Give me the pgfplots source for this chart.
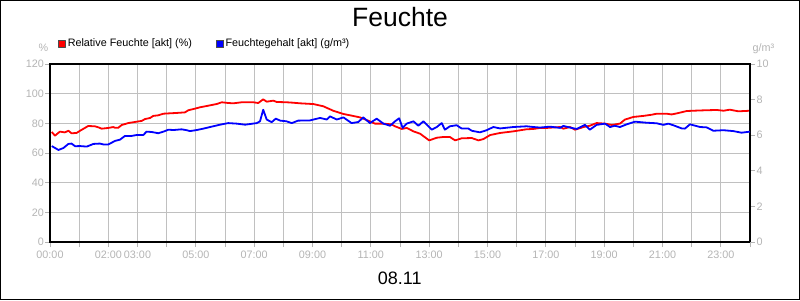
\documentclass[border=0pt]{standalone}
\usepackage{fontspec}
\setmainfont{Liberation Sans}
\usepackage{pgfplots}
\pgfplotsset{compat=1.18}
\definecolor{lbl}{RGB}{180,180,180}
\definecolor{grd}{RGB}{192,192,192}
\definecolor{rd}{RGB}{255,0,0}
\definecolor{bl}{RGB}{0,0,255}
\begin{document}
\begin{tikzpicture}[x=1pt,y=1pt]
\useasboundingbox (0,0) rectangle (800,300);
\draw[line width=1pt] (0.5,0.5) rectangle (799.5,299.5);
\node[anchor=base, inner sep=0pt, font=\fontsize{26.5}{30}\selectfont] at (400,273) {Feuchte};
\node[anchor=base, inner sep=0pt, font=\fontsize{18}{20}\selectfont] at (399.7,16) {08.11};
\node[anchor=base east, inner sep=0pt, text=lbl, font=\fontsize{10.8}{12}\selectfont] at (48.5,248) {\%};
\node[anchor=base west, inner sep=0pt, text=lbl, font=\fontsize{10.8}{12}\selectfont] at (752.5,248) {g/m³};
\pgfplotsset{common/.style={scale only axis, width=700pt, height=178pt, at={(50pt,58pt)}, anchor=south west,
  xmin=0, xmax=24, tick align=outside, major tick length=5pt,
  tick style={lbl, line width=0.8pt},
  ticklabel style={text=lbl, font=\fontsize{10.8}{12}\selectfont},
  /pgf/number format/assume math mode=true}}
\begin{axis}[common, ymin=0, ymax=120, ytick={0,20,...,120},
  xtick={0,...,24},
  xticklabels={00:00,,02:00,03:00,,05:00,,07:00,,09:00,,11:00,,13:00,,15:00,,17:00,,19:00,,21:00,,23:00,},
  xtick pos=lower, ytick pos=left,
  grid=major, major grid style={grd, line width=0.8pt},
  axis line style={black, line width=1.2pt},
  yticklabel style={inner sep=1pt},
  legend columns=2,
  legend style={draw=none, fill=none, inner sep=0pt, at={(0.0114,1.1135)}, anchor=west,
    font=\fontsize{10.8}{12}\selectfont, text=black,
    /tikz/every even column/.append style={column sep=22pt}}]
\addplot[rd, line width=1.8pt, line join=round,
  legend image code/.code={\filldraw[fill=rd, draw=black!70, line width=0.6pt] (0pt,-3.5pt) rectangle (7pt,3.5pt);}]
coordinates {
(0.06,74.2)(0.17,71.7)(0.34,74.4)(0.51,73.9)(0.63,75)(0.74,73.3)(0.91,73.5)(1.03,75)(1.31,78.2)(1.54,78)
(1.66,77.3)(1.77,76.4)(2.0,76.9)(2.17,77.5)(2.23,77)(2.34,77)(2.46,78.9)(2.69,80.2)(3.03,81.3)(3.14,81.6)
(3.26,82.9)(3.43,83.6)(3.54,85)(3.71,85.4)(3.89,86.5)(4.06,86.7)(4.34,87)(4.63,87.4)(4.74,88.8)(4.97,89.9)
(5.14,90.8)(5.43,91.9)(5.71,93)(5.89,94.2)(6.11,93.7)(6.29,93.5)(6.57,94.2)(6.97,94.2)(7.14,93.7)(7.31,96.2)
(7.43,94.6)(7.66,95.3)(7.77,94.4)(8.11,94.2)(8.34,93.9)(8.57,93.5)(9.03,93)(9.37,91.5)(9.71,88.5)(10.06,86.3)
(10.29,85.4)(10.63,84)(10.91,81.8)(11.14,79.8)(11.43,79.8)(11.71,79.3)(11.83,78)(12.06,76.2)(12.23,76.9)(12.46,74.6)
(12.69,73)(13.0,68.5)(13.26,70.3)(13.49,70.8)(13.71,70.8)(13.89,68.5)(14.11,69.9)(14.46,70.1)(14.69,68.5)(14.86,69.4)
(15.09,72.1)(15.43,73.5)(15.89,74.6)(16.34,76)(16.57,76.2)(16.8,76.9)(17.03,76.9)(17.49,77.5)(17.6,76.4)(17.83,77.5)
(18.0,75.7)(18.29,77.5)(18.51,78.4)(18.74,80.2)(19.03,79.8)(19.26,78.9)(19.54,79.8)(19.71,82.5)(20.0,84.3)(20.34,85)
(20.63,85.8)(20.8,86.5)(21.14,86.5)(21.31,86)(21.49,86.7)(21.83,88.3)(22.06,88.5)(22.46,88.8)(22.86,89)(23.09,88.5)
(23.31,89.2)(23.6,88.1)(24.0,88.5)
};
\addlegendentry{Relative Feuchte [akt] (\%)}
\addlegendimage{legend image code/.code={\filldraw[fill=bl, draw=black!70, line width=0.6pt] (0pt,-3.5pt) rectangle (7pt,3.5pt);}}
\addlegendentry{Feuchtegehalt [akt] (g/m³)}
\end{axis}
\begin{axis}[common, ymin=0, ymax=10, ytick={0,2,...,10},
  axis x line=none, axis y line*=right,
  axis line style={black, line width=1.2pt},
  yticklabel style={inner sep=1.5pt}]
\addplot[bl, line width=1.8pt, line join=round] coordinates {
(0.06,5.39)(0.29,5.17)(0.46,5.28)(0.63,5.51)(0.74,5.53)(0.86,5.38)(1.03,5.39)(1.26,5.36)(1.49,5.51)(1.71,5.53)
(1.83,5.48)(2.0,5.48)(2.23,5.68)(2.4,5.75)(2.57,5.96)(2.8,5.96)(2.97,6.01)(3.2,6.01)(3.31,6.20)(3.49,6.18)
(3.71,6.11)(3.89,6.20)(4.06,6.31)(4.23,6.29)(4.51,6.33)(4.69,6.28)(4.8,6.23)(5.03,6.29)(5.26,6.37)(5.49,6.46)
(5.83,6.59)(6.11,6.68)(6.4,6.65)(6.69,6.59)(7.09,6.68)(7.2,6.78)(7.31,7.43)(7.43,6.88)(7.6,6.73)(7.74,6.93)
(7.89,6.82)(8.11,6.78)(8.29,6.68)(8.51,6.82)(8.57,6.82)(8.91,6.83)(9.26,6.97)(9.49,6.88)(9.6,7.06)(9.83,6.88)
(10.06,7.0)(10.34,6.68)(10.57,6.74)(10.74,7.0)(10.97,6.68)(11.2,6.93)(11.43,6.65)(11.66,6.53)(11.83,6.78)(11.97,6.95)
(12.09,6.41)(12.23,6.65)(12.46,6.78)(12.63,6.53)(12.8,6.78)(13.09,6.31)(13.26,6.46)(13.43,6.68)(13.54,6.31)(13.71,6.5)
(13.94,6.56)(14.11,6.38)(14.34,6.38)(14.46,6.25)(14.74,6.16)(14.97,6.28)(15.2,6.46)(15.43,6.38)(15.89,6.46)(16.34,6.5)
(16.57,6.46)(16.8,6.43)(17.14,6.48)(17.49,6.41)(17.6,6.52)(17.83,6.43)(18.06,6.35)(18.34,6.58)(18.51,6.31)(18.74,6.58)
(19.03,6.65)(19.2,6.46)(19.37,6.53)(19.54,6.46)(19.77,6.61)(20.06,6.76)(20.46,6.70)(20.8,6.67)(21.03,6.58)(21.2,6.65)
(21.37,6.56)(21.66,6.38)(21.77,6.37)(21.94,6.61)(22.29,6.46)(22.51,6.44)(22.74,6.25)(23.09,6.28)(23.43,6.23)(23.71,6.14)
(24.0,6.2)
};
\end{axis}
\end{tikzpicture}
\end{document}
